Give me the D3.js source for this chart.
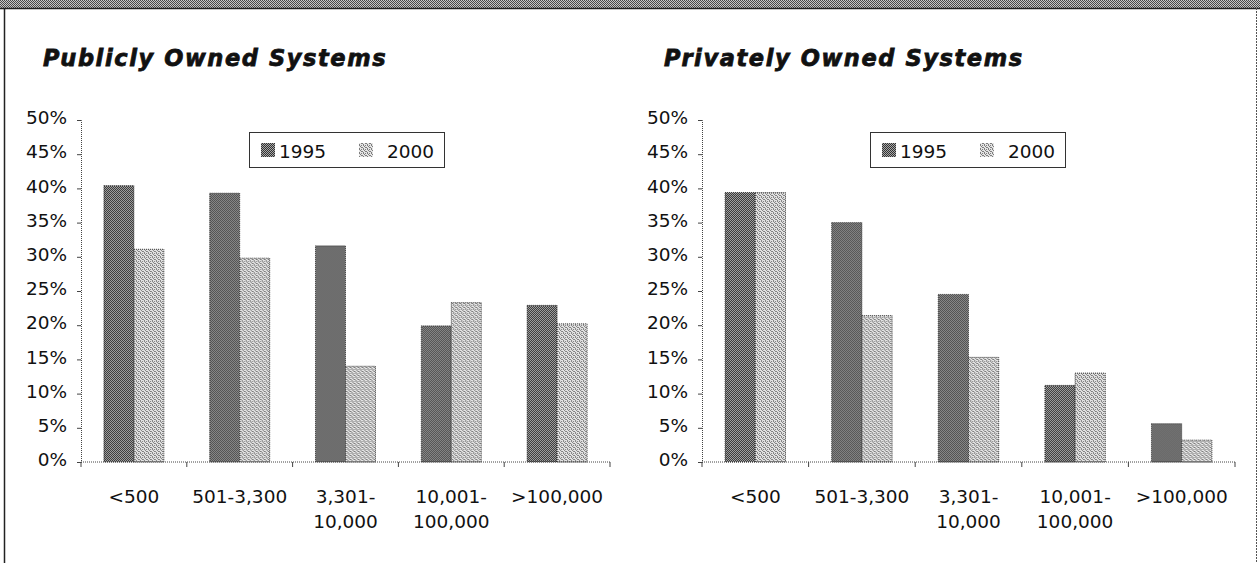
<!DOCTYPE html>
<html lang="en">
<head>
<meta charset="utf-8" />
<script src="https://d3js.org/d3.v7.min.js"></script>
<style>
  html, body { margin: 0; padding: 0; background: #fff; }
  svg { display: block; }
</style>
</head>
<body>
<svg id="canvas" width="1260" height="563"></svg>
<script>
// data (percent)
var categories = [["<500"], ["501-3,300"], ["3,301-", "10,000"], ["10,001-", "100,000"], [">100,000"]];
var seriesNames = ["1995", "2000"];
var public1995 = [40.4, 39.3, 31.6, 19.9, 22.9];
var public2000 = [31.1, 29.8, 14.0, 23.3, 20.2];
var private1995 = [39.4, 35.0, 24.5, 11.2, 5.6];
var private2000 = [39.4, 21.4, 15.3, 13.0, 3.2];
var yTicks = [0, 5, 10, 15, 20, 25, 30, 35, 40, 45, 50];

var svg = d3.select("#canvas");
var defs = svg.append("defs");

// dithered fills, like the scanned halftone
function dither(id, dark, light, bits) {
  var p = defs.append("pattern").attr("id", id)
    .attr("patternUnits", "userSpaceOnUse").attr("width", 4).attr("height", 4);
  p.append("rect").attr("width", 4).attr("height", 4).attr("fill", light);
  bits.forEach(function(b) {
    p.append("rect").attr("x", b[0]).attr("y", b[1]).attr("width", 1).attr("height", 1).attr("fill", dark);
  });
}
dither("fill1995", "#333", "#a8a8a8", [[0,0],[2,0],[1,1],[3,1],[0,2],[2,2],[3,3],[1,3]]);
dither("fill2000", "#7e7e7e", "#e4e4e4", [[0,0],[2,1],[1,2],[3,3],[2,3],[0,1]]);
dither("band", "#4a4a4a", "#c8c8c8", [[0,0],[2,0],[1,1],[3,1],[0,2],[2,2],[1,3],[3,3]]);

var fills = { "1995": "url(#fill1995)", "2000": "url(#fill2000)" };

// frame
svg.append("rect").attr("x", 0).attr("y", 0).attr("width", 1260).attr("height", 8).attr("fill", "url(#band)");
svg.append("line").attr("x1", 0).attr("x2", 1260).attr("y1", 8.5).attr("y2", 8.5).attr("stroke", "#222").attr("stroke-width", 1.5);
svg.append("line").attr("x1", 4.5).attr("x2", 4.5).attr("y1", 8).attr("y2", 563).attr("stroke", "#222").attr("stroke-width", 1.5);
svg.append("line").attr("x1", 1256.5).attr("x2", 1256.5).attr("y1", 8).attr("y2", 563).attr("stroke", "#555").attr("stroke-width", 1).attr("stroke-dasharray", "2,1");

var font = "'DejaVu Sans', sans-serif";

function drawChart(title, left, right, v1995, v2000) {
  var top = 120, bottom = 462;
  var g = svg.append("g");

  var x = d3.scaleBand().domain(d3.range(categories.length)).range([left, right])
    .paddingInner(0.433).paddingOuter(0.2165);
  var xs = d3.scaleBand().domain(seriesNames).range([0, x.bandwidth()]);
  var y = d3.scaleLinear().domain([0, 50]).range([bottom, top]);

  // title
  g.append("text").attr("x", left - 38).attr("y", 66)
    .attr("font-family", font).attr("font-size", 22.5).attr("font-weight", "bold")
    .attr("font-style", "italic").attr("letter-spacing", 1.6).attr("fill", "#111")
    .attr("stroke", "#111").attr("stroke-width", 0.8)
    .text(title);

  // bars
  var rows = categories.map(function(c, i) { return { i: i, vals: [v1995[i], v2000[i]] }; });
  var grp = g.selectAll(".grp").data(rows).join("g")
    .attr("transform", function(d) { return "translate(" + x(d.i) + ",0)"; });
  grp.selectAll("rect").data(function(d) {
      return seriesNames.map(function(s, k) { return { s: s, v: d.vals[k] }; });
    }).join("rect")
    .attr("x", function(d) { return xs(d.s); })
    .attr("y", function(d) { return y(d.v); })
    .attr("width", xs.bandwidth())
    .attr("height", function(d) { return bottom - y(d.v); })
    .attr("fill", function(d) { return fills[d.s]; })
    .attr("stroke", "#1a1a1a").attr("stroke-width", 0.8).attr("stroke-dasharray", "1,1");

  // y axis
  var yAxis = d3.axisLeft(y).tickValues(yTicks).tickSize(4).tickPadding(10)
    .tickFormat(function(d) { return d + "%"; });
  var ya = g.append("g").attr("transform", "translate(" + left + ",0)").call(yAxis);
  ya.select(".domain").attr("stroke", "#444").attr("stroke-dasharray", "1,1");
  ya.selectAll(".tick line").attr("stroke", "#444");
  ya.selectAll(".tick text").attr("font-family", font).attr("font-size", 18.5)
    .attr("fill", "#111").attr("dy", "0.2em");

  // x axis: tick marks between categories
  var xa = g.append("g").attr("transform", "translate(0," + bottom + ")");
  xa.append("line").attr("x1", left).attr("x2", right).attr("stroke", "#444").attr("stroke-dasharray", "1,1");
  var step = x.step();
  xa.selectAll(".sep").data(d3.range(categories.length + 1)).join("line")
    .attr("x1", function(d) { return left + d * step; })
    .attr("x2", function(d) { return left + d * step; })
    .attr("y1", 0).attr("y2", 5).attr("stroke", "#444");
  var lab = xa.selectAll(".lab").data(rows).join("text")
    .attr("text-anchor", "middle").attr("font-family", font).attr("font-size", 18.5).attr("fill", "#111")
    .attr("transform", function(d) { return "translate(" + (x(d.i) + x.bandwidth() / 2) + ",41)"; });
  lab.selectAll("tspan").data(function(d) { return categories[d.i]; }).join("tspan")
    .attr("x", 0).attr("y", function(d, k) { return k * 25; }).text(function(d) { return d; });

  // legend
  var lg = g.append("g").attr("transform", "translate(" + (left + 168) + ",132)");
  lg.append("rect").attr("x", 0.5).attr("y", 0.5).attr("width", 195).attr("height", 35)
    .attr("fill", "#fff").attr("stroke", "#333").attr("stroke-width", 1);
  var item = lg.selectAll(".item").data(seriesNames).join("g")
    .attr("transform", function(d, k) { return "translate(" + (k === 0 ? 12 : 110) + ",0)"; });
  item.append("rect").attr("x", 0).attr("y", 11).attr("width", 14).attr("height", 14)
    .attr("fill", function(d) { return fills[d]; });
  item.append("text").attr("x", function(d, k) { return k === 0 ? 18 : 28; }).attr("y", 26)
    .attr("font-family", font).attr("font-size", 18.5).attr("fill", "#111")
    .text(function(d) { return d; });
}

drawChart("Publicly Owned Systems", 81, 610, public1995, public2000);
drawChart("Privately Owned Systems", 702, 1235, private1995, private2000);
</script>
</body>
</html>
